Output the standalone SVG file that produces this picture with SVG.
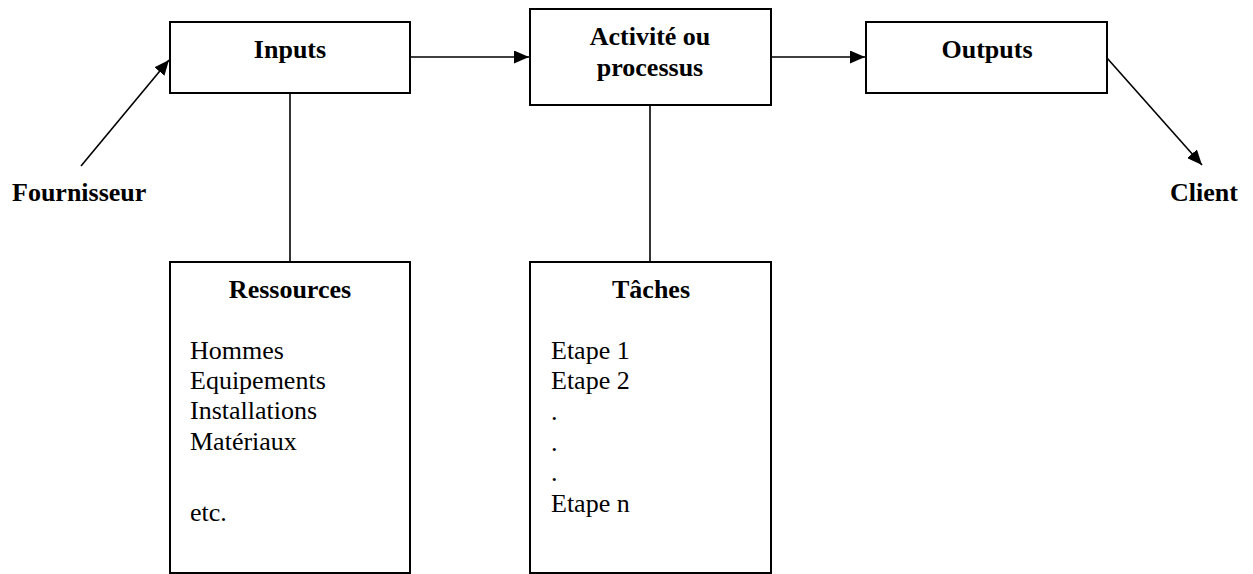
<svg xmlns="http://www.w3.org/2000/svg" width="1253" height="574" viewBox="0 0 1253 574">
<style>
.box{fill:#fff;stroke:#000;stroke-width:2}
.ln{fill:none;stroke:#000;stroke-width:1.6}
.b{font-family:"Liberation Serif","Times New Roman",serif;font-size:26px;font-weight:bold;fill:#000}
.r{font-family:"Liberation Serif","Times New Roman",serif;font-size:26px;fill:#000}
</style>
<defs>
<marker id="ah" markerUnits="userSpaceOnUse" markerWidth="16" markerHeight="13" refX="15" refY="6.5" orient="auto">
<path d="M0,0 L15,6.5 L0,13 z" fill="#000"/>
</marker>
</defs>
<rect width="1253" height="574" fill="#fff"/>
<g id="connectors">
<line class="ln" x1="81" y1="166" x2="169" y2="60" marker-end="url(#ah)"/>
<line class="ln" x1="410" y1="57" x2="529" y2="57" marker-end="url(#ah)"/>
<line class="ln" x1="771" y1="57" x2="865" y2="57" marker-end="url(#ah)"/>
<line class="ln" x1="1107" y1="58" x2="1202" y2="165" marker-end="url(#ah)"/>
<line class="ln" x1="290" y1="93" x2="290" y2="262"/>
<line class="ln" x1="650" y1="105" x2="650" y2="262"/>
</g>
<g id="fournisseur"><text class="b" x="12" y="201">Fournisseur</text></g>
<g id="client"><text class="b" x="1170" y="201">Client</text></g>
<g id="inputs">
<rect class="box" x="170" y="22" width="240" height="71"/>
<text class="b" x="290" y="58" text-anchor="middle">Inputs</text>
</g>
<g id="activite">
<rect class="box" x="530" y="9" width="241" height="96"/>
<text class="b" x="650" y="45" text-anchor="middle">Activité ou</text>
<text class="b" x="650" y="76" text-anchor="middle">processus</text>
</g>
<g id="outputs">
<rect class="box" x="866" y="22" width="241" height="71"/>
<text class="b" x="987" y="58" text-anchor="middle">Outputs</text>
</g>
<g id="ressources">
<rect class="box" x="170" y="262" width="240" height="311"/>
<text class="b" x="290" y="298" text-anchor="middle">Ressources</text>
<text class="r" x="190" y="359">Hommes</text>
<text class="r" x="190" y="389">Equipements</text>
<text class="r" x="190" y="419">Installations</text>
<text class="r" x="190" y="450">Matériaux</text>
<text class="r" x="190" y="521">etc.</text>
</g>
<g id="taches">
<rect class="box" x="530" y="262" width="241" height="311"/>
<text class="b" x="651" y="298" text-anchor="middle">Tâches</text>
<text class="r" x="551" y="359">Etape 1</text>
<text class="r" x="551" y="389">Etape 2</text>
<text class="r" x="551" y="420">.</text>
<text class="r" x="551" y="451">.</text>
<text class="r" x="551" y="481">.</text>
<text class="r" x="551" y="512">Etape n</text>
</g>
</svg>
